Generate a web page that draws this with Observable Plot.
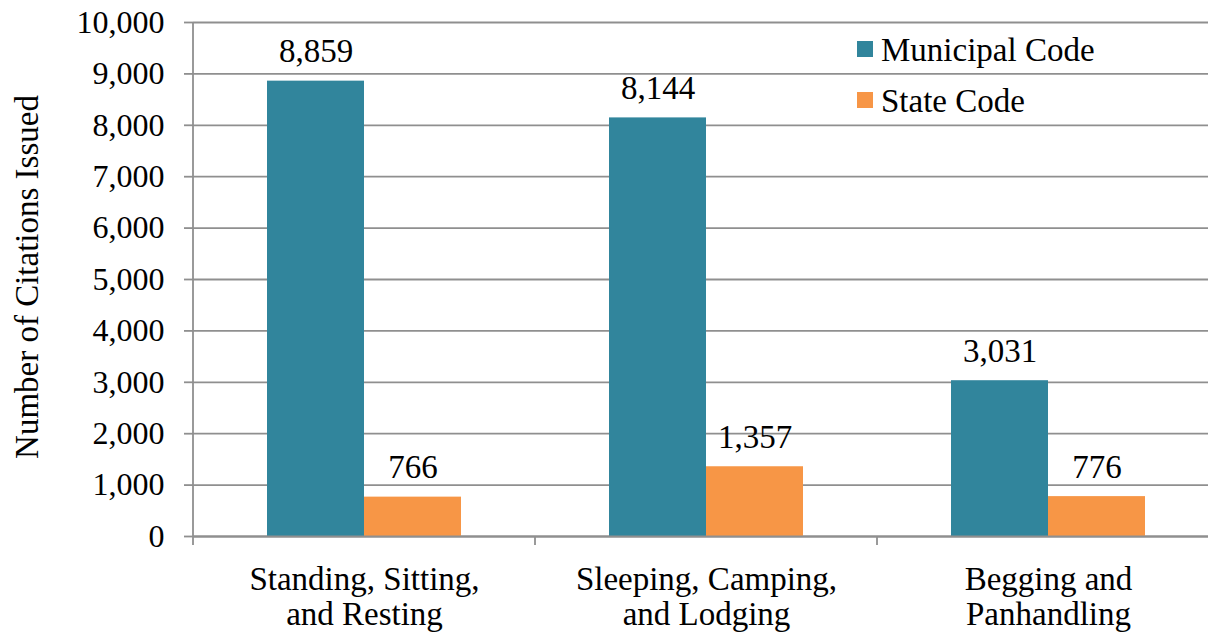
<!DOCTYPE html>
<html>
<head>
<meta charset="utf-8">
<script src="https://cdn.jsdelivr.net/npm/d3@7"></script>
<script src="https://cdn.jsdelivr.net/npm/@observablehq/plot@0.6"></script>
<style>
  html, body { margin: 0; padding: 0; background: #fff; overflow: hidden; }
  #wrap { position: relative; width: 1208px; height: 633px; overflow: hidden; }
  #chart svg { display: block; max-width: none !important; }
  .serif { font-family: "Liberation Serif", "Times New Roman", serif; color: #000; }
  .legend { position: absolute; left: 857px; top: 25px; font-size: 33px; }
  .legend .item { display: flex; align-items: center; height: 51px; }
  .legend .sw { width: 16px; height: 16px; margin-right: 8px; margin-top: -4px; }
  .ylabel { position: absolute; left: 27px; top: 277px; font-size: 33px; white-space: nowrap;
            transform: translate(-50%, -50%) rotate(-90deg); }
</style>
</head>
<body>
<div id="wrap">
  <div id="chart"></div>
  <div class="legend serif" id="legend"></div>
  <div class="ylabel serif" id="ylabel"></div>
</div>
<script>
// ---- data ----
const categories = ["Standing, Sitting, and Resting", "Sleeping, Camping, and Lodging", "Begging and Panhandling"];
const categoryTickLabels = ["Standing, Sitting,\nand Resting", "Sleeping, Camping,\nand Lodging", "Begging and\nPanhandling"];
const series = ["Municipal Code", "State Code"];
const municipalValues = [8859, 8144, 3031];
const stateValues = [766, 1357, 776];
const seriesColors = ["#31859C", "#F79646"];
const yTicks = [0, 1000, 2000, 3000, 4000, 5000, 6000, 7000, 8000, 9000, 10000];
const yLabel = "Number of Citations Issued";

const data = categories.flatMap((c, i) => [
  {category: c, series: series[0], value: municipalValues[i]},
  {category: c, series: series[1], value: stateValues[i]}
]);

const fmt = d3.format(",");
const lineColor = "#8f8f8f";

// y-axis line + category boundary ticks, drawn once per facet
let facetCount = 0;
function axisLines(index, scales, values, dimensions) {
  const {marginLeft} = dimensions;
  const y0 = scales.y(0);
  const yTop = scales.y(yTicks[yTicks.length - 1]);
  const g = d3.create("svg:g").attr("stroke", lineColor).attr("stroke-width", 1.8);
  g.append("line")
    .attr("x1", marginLeft).attr("x2", marginLeft)
    .attr("y1", facetCount === 0 ? yTop : y0).attr("y2", y0 + 9);
  facetCount++;
  return g.node();
}

const chart = Plot.plot({
  width: 1220,
  height: 633,
  marginLeft: 192,
  marginRight: 1,
  marginTop: 22,
  marginBottom: 97,
  style: {fontFamily: '"Liberation Serif", "Times New Roman", serif', fontSize: "33px", color: "#000", background: "#fff", maxWidth: "none"},
  fx: {domain: categories, paddingInner: 0, paddingOuter: 0, axis: null, label: null},
  x: {domain: series, paddingInner: 0, paddingOuter: 0.745, axis: null, label: null},
  y: {domain: [0, 10000], axis: null, label: null},
  color: {domain: series, range: seriesColors},
  marks: [
    Plot.gridY({ticks: yTicks, stroke: lineColor, strokeOpacity: 1, strokeWidth: 1.8}),
    Plot.barY(data, {fx: "category", x: "series", y: "value", fill: "series"}),
    Plot.ruleY([0], {stroke: lineColor, strokeWidth: 1.8}),
    axisLines,
    Plot.text(data, {fx: "category", x: "series", y: "value", text: d => fmt(d.value), dy: -19, lineAnchor: "bottom", fontSize: 33, fill: "#000"}),
    Plot.axisY({ticks: yTicks, tickSize: 9, tickPadding: 20, tickFormat: fmt, fontSize: 32, stroke: lineColor, strokeWidth: 1.8, fill: "#000", label: null}),
    Plot.axisFx({anchor: "bottom", tickSize: 0, tickPadding: 29, tickFormat: d => categoryTickLabels[categories.indexOf(d)], fontSize: 33, lineHeight: 1.06, fill: "#000", label: null})
  ]
});
document.getElementById("chart").appendChild(chart);

document.getElementById("ylabel").textContent = yLabel;

const legend = document.getElementById("legend");
series.forEach((s, i) => {
  const item = document.createElement("div");
  item.className = "item";
  const sw = document.createElement("span");
  sw.className = "sw";
  sw.style.background = seriesColors[i];
  const t = document.createElement("span");
  t.textContent = s;
  item.appendChild(sw);
  item.appendChild(t);
  legend.appendChild(item);
});
</script>
</body>
</html>
